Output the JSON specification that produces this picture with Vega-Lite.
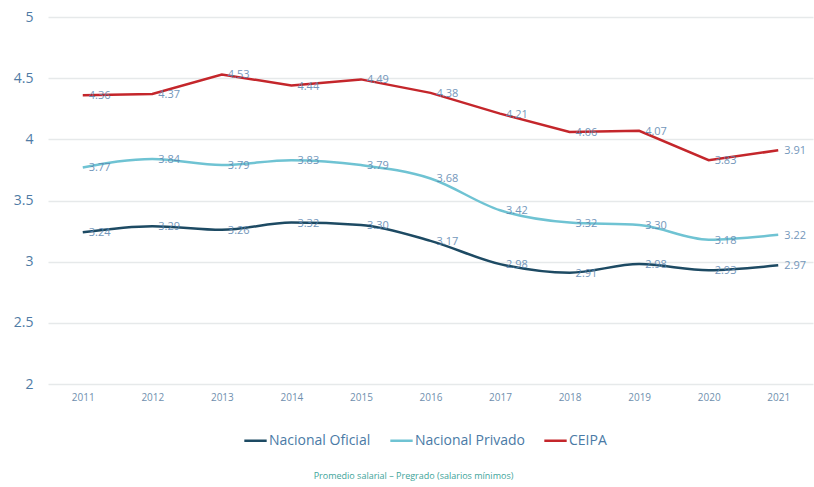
{
  "$schema": "https://vega.github.io/schema/vega-lite/v6.json",
  "width": 765,
  "height": 367,
  "autosize": "none",
  "padding": {"left": 48, "top": 17, "right": 1, "bottom": 103},
  "background": "white",
  "config": {
    "view": {"stroke": null},
    "font": "Open Sans"
  },
  "title": {
    "text": "Promedio salarial – Pregrado (salarios mínimos)",
    "orient": "bottom",
    "anchor": "middle",
    "fontSize": 9,
    "fontWeight": "normal",
    "color": "#3ea49a",
    "offset": 24,
    "dx": -17
  },
  "data": {
    "values": [
      {"year": "2011", "serie": "Nacional Oficial", "value": 3.24},
      {"year": "2012", "serie": "Nacional Oficial", "value": 3.29},
      {"year": "2013", "serie": "Nacional Oficial", "value": 3.26},
      {"year": "2014", "serie": "Nacional Oficial", "value": 3.32},
      {"year": "2015", "serie": "Nacional Oficial", "value": 3.30},
      {"year": "2016", "serie": "Nacional Oficial", "value": 3.17},
      {"year": "2017", "serie": "Nacional Oficial", "value": 2.98},
      {"year": "2018", "serie": "Nacional Oficial", "value": 2.91},
      {"year": "2019", "serie": "Nacional Oficial", "value": 2.98},
      {"year": "2020", "serie": "Nacional Oficial", "value": 2.93},
      {"year": "2021", "serie": "Nacional Oficial", "value": 2.97},
      {"year": "2011", "serie": "Nacional Privado", "value": 3.77},
      {"year": "2012", "serie": "Nacional Privado", "value": 3.84},
      {"year": "2013", "serie": "Nacional Privado", "value": 3.79},
      {"year": "2014", "serie": "Nacional Privado", "value": 3.83},
      {"year": "2015", "serie": "Nacional Privado", "value": 3.79},
      {"year": "2016", "serie": "Nacional Privado", "value": 3.68},
      {"year": "2017", "serie": "Nacional Privado", "value": 3.42},
      {"year": "2018", "serie": "Nacional Privado", "value": 3.32},
      {"year": "2019", "serie": "Nacional Privado", "value": 3.30},
      {"year": "2020", "serie": "Nacional Privado", "value": 3.18},
      {"year": "2021", "serie": "Nacional Privado", "value": 3.22},
      {"year": "2011", "serie": "CEIPA", "value": 4.36},
      {"year": "2012", "serie": "CEIPA", "value": 4.37},
      {"year": "2013", "serie": "CEIPA", "value": 4.53},
      {"year": "2014", "serie": "CEIPA", "value": 4.44},
      {"year": "2015", "serie": "CEIPA", "value": 4.49},
      {"year": "2016", "serie": "CEIPA", "value": 4.38},
      {"year": "2017", "serie": "CEIPA", "value": 4.21},
      {"year": "2018", "serie": "CEIPA", "value": 4.06},
      {"year": "2019", "serie": "CEIPA", "value": 4.07},
      {"year": "2020", "serie": "CEIPA", "value": 3.83},
      {"year": "2021", "serie": "CEIPA", "value": 3.91}
    ]
  },
  "encoding": {
    "x": {
      "field": "year",
      "type": "ordinal",
      "scale": {"type": "point", "padding": 0.5},
      "axis": {
        "title": null,
        "labelAngle": 0,
        "labelFontSize": 10,
        "labelColor": "#6f8fae",
        "labelPadding": 8,
        "ticks": false,
        "domain": false,
        "grid": false
      }
    },
    "y": {
      "field": "value",
      "type": "quantitative",
      "scale": {"domain": [2, 5], "nice": false, "zero": false},
      "axis": {
        "title": null,
        "values": [2, 2.5, 3, 3.5, 4, 4.5, 5],
        "format": ".1~f",
        "labelFontSize": 14,
        "labelColor": "#4f7ba5",
        "labelPadding": 15,
        "ticks": false,
        "domain": false,
        "gridColor": "#e6e9ea",
        "gridWidth": 1.5
      }
    },
    "color": {
      "field": "serie",
      "type": "nominal",
      "scale": {
        "domain": ["Nacional Oficial", "Nacional Privado", "CEIPA"],
        "range": ["#1d4a63", "#6fc3d3", "#c4262b"]
      },
      "legend": {
        "title": null,
        "orient": "none",
        "legendX": 195,
        "legendY": 411,
        "direction": "horizontal",
        "symbolType": "stroke",
        "symbolSize": 500,
        "symbolStrokeWidth": 2.5,
        "labelFontSize": 14,
        "labelColor": "#4a7aa6",
        "labelOffset": 1,
        "columnPadding": 14
      }
    }
  },
  "layer": [
    {
      "transform": [{"filter": "datum.serie !== 'CEIPA'"}],
      "mark": {"type": "line", "interpolate": "monotone", "strokeWidth": 2.5}
    },
    {
      "transform": [{"filter": "datum.serie === 'CEIPA'"}],
      "mark": {"type": "line", "strokeWidth": 2.5}
    },
    {
      "mark": {"type": "text", "align": "left", "baseline": "middle", "dx": 6, "dy": 1, "fontSize": 11, "opacity": 0.85},
      "encoding": {
        "text": {"field": "value", "type": "quantitative", "format": ".2f"},
        "color": {"value": "#5b86b0"}
      }
    }
  ]
}
